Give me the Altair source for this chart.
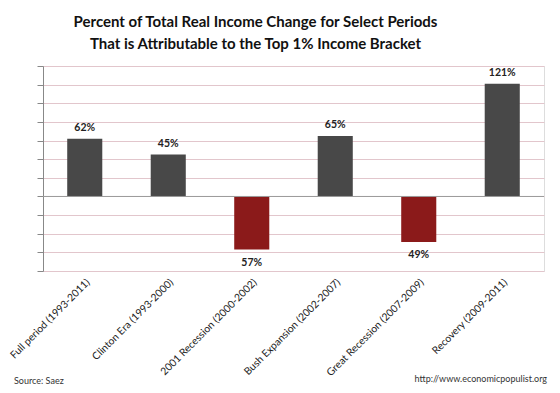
import altair as alt
import pandas as pd

periods = [
    "Full period  (1993-2011)",
    "Clinton Era (1993-2000)",
    "2001 Recession  (2000-2002)",
    "Bush Expansion  (2002-2007)",
    "Great Recession (2007-2009)",
    "Recovery (2009-2011)",
]
values = [62, 45, -57, 65, -49, 121]
labels = ["62%", "45%", "57%", "65%", "49%", "121%"]
y_ticks = [-80, -60, -40, -20, 0, 20, 40, 60, 80, 100, 120, 140]

df = pd.DataFrame({
    "period": periods,
    "value": values,
    "label": labels,
    "sign": ["pos" if v >= 0 else "neg" for v in values],
})

FONT = "Lato"

x_enc = alt.X(
    "period:N", sort=None, title=None,
    scale=alt.Scale(paddingInner=0.58, paddingOuter=0.29),
    axis=alt.Axis(labelAngle=-45, labelFontSize=10.3, labelFont=FONT, labelColor="#222",
                  domain=False, ticks=False, labelPadding=6, labelLimit=200),
)
y_scale = alt.Scale(domain=[-80, 140], nice=False, zero=False)
y_enc = alt.Y("value:Q", scale=y_scale, title=None,
              axis=alt.Axis(values=y_ticks, labels=False, ticks=True, tickSize=6,
                            tickColor="#888", domainColor="#888", grid=True,
                            gridColor="#e2c6cc", gridWidth=1, labelOverlap=False,
                            tickCount=12))

base = alt.Chart(df)

bars = base.mark_bar().encode(
    x=x_enc,
    y=y_enc,
    y2=alt.datum(0),
    color=alt.Color("sign:N", scale=alt.Scale(domain=["pos", "neg"], range=["#484848", "#8b1a1a"]),
                    legend=None),
)

zero = base.transform_aggregate(z="min(value)").transform_calculate(value="0").mark_rule(
    color="#9a9a9a", strokeWidth=1
).encode(y=y_enc)

txt_pos = base.transform_filter("datum.value >= 0").mark_text(
    dy=-11, fontWeight="bold", fontSize=10.5, font=FONT, color="#222"
).encode(x=x_enc, y=y_enc, text="label:N")

txt_neg = base.transform_filter("datum.value < 0").mark_text(
    dy=13, fontWeight="bold", fontSize=10.5, font=FONT, color="#222"
).encode(x=x_enc, y=y_enc, text="label:N")

source = alt.Chart(pd.DataFrame({"t": ["Source:  Saez"]})).mark_text(
    align="left", baseline="middle", fontSize=9, font=FONT, color="#333"
).encode(x=alt.value(-29), y=alt.value(315), text="t:N")

url = alt.Chart(pd.DataFrame({"t": ["http://www.economicpopulist.org"]})).mark_text(
    align="right", baseline="middle", fontSize=9, font=FONT, color="#333"
).encode(x=alt.value(504), y=alt.value(313), text="t:N")

chart = alt.layer(bars, zero, txt_pos, txt_neg, source, url).properties(
    width=501, height=205,
    autosize=alt.AutoSizeParams(type="none"),
    padding={"left": 35, "top": 58, "right": 8, "bottom": 114},
    title=alt.TitleParams(
        ["Percent of Total Real Income Change for Select Periods",
         "That is Attributable  to the Top 1% Income Bracket"],
        font=FONT, fontSize=15, fontWeight="bold", color="#111",
        anchor="middle", dx=-38, offset=14, lineHeight=22,
    ),
).configure_view(fill="#e4e4e4", stroke=None).configure(background="white")

chart.save("out.html", embed_options={"renderer": "svg", "actions": False})
